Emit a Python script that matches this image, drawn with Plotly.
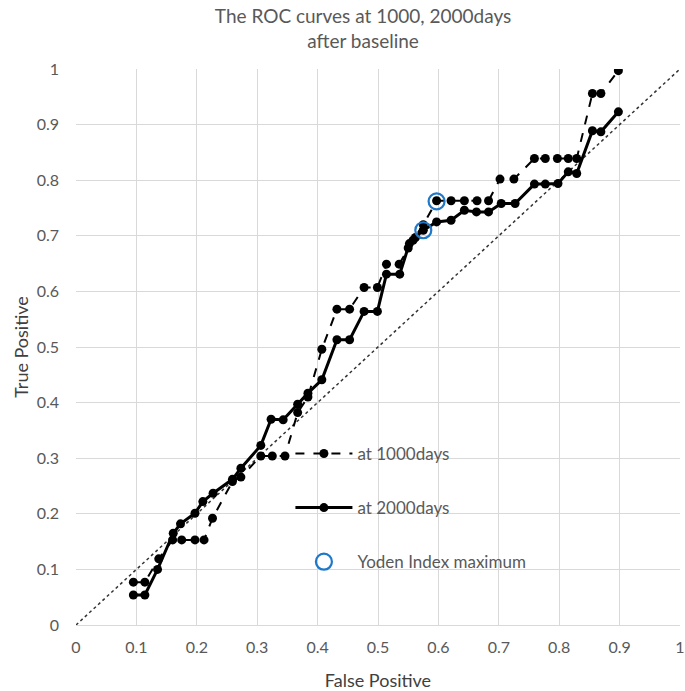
import plotly.graph_objects as go

# 1000 days ROC (dashed)
fp_1000 = [0.095, 0.114, 0.137, 0.160, 0.175, 0.197, 0.212, 0.226, 0.259, 0.273,
           0.306, 0.325, 0.346, 0.367, 0.384, 0.407, 0.432, 0.453, 0.477, 0.499,
           0.514, 0.535, 0.550, 0.558, 0.575, 0.597, 0.621, 0.643, 0.664, 0.683,
           0.702, 0.725, 0.759, 0.777, 0.797, 0.815, 0.829, 0.855, 0.869, 0.898]
tp_1000 = [0.077, 0.077, 0.119, 0.153, 0.153, 0.153, 0.153, 0.192, 0.258, 0.266,
           0.304, 0.304, 0.304, 0.382, 0.410, 0.496, 0.568, 0.568, 0.607, 0.607,
           0.649, 0.649, 0.678, 0.692, 0.720, 0.763, 0.763, 0.763, 0.763, 0.763,
           0.802, 0.802, 0.839, 0.839, 0.839, 0.839, 0.839, 0.956, 0.956, 0.997]

# 2000 days ROC (solid)
fp_2000 = [0.095, 0.114, 0.135, 0.161, 0.173, 0.197, 0.210, 0.227, 0.259, 0.273,
           0.306, 0.323, 0.343, 0.367, 0.384, 0.407, 0.432, 0.453, 0.477, 0.499,
           0.514, 0.536, 0.552, 0.562, 0.575, 0.597, 0.621, 0.643, 0.663, 0.683,
           0.704, 0.727, 0.759, 0.777, 0.798, 0.815, 0.829, 0.855, 0.869, 0.898]
tp_2000 = [0.054, 0.054, 0.100, 0.165, 0.182, 0.201, 0.222, 0.237, 0.262, 0.282,
           0.323, 0.370, 0.369, 0.397, 0.417, 0.441, 0.513, 0.513, 0.564, 0.564,
           0.631, 0.631, 0.686, 0.697, 0.710, 0.725, 0.728, 0.746, 0.743, 0.743,
           0.758, 0.758, 0.793, 0.793, 0.794, 0.815, 0.812, 0.889, 0.887, 0.923]

# Youden index maxima
yoden_fp = [0.597, 0.575]
yoden_tp = [0.762, 0.710]

diag = [0, 1]

FONT = "Lato, 'Open Sans', sans-serif"
GRAY = "#595959"

fig = go.Figure()
fig.add_trace(go.Scatter(x=diag, y=diag, mode="lines", showlegend=False,
                         line=dict(color="#333333", width=1.5, dash="dot"),
                         hoverinfo="skip"))
fig.add_trace(go.Scatter(x=fp_1000, y=tp_1000, mode="lines+markers", name="at 1000days",
                         legendgroup="a",
                         line=dict(color="black", width=2, dash="dash"),
                         marker=dict(color="black", size=9)))
fig.add_trace(go.Scatter(x=fp_2000, y=tp_2000, mode="lines+markers", name="at 2000days",
                         legendgroup="b",
                         line=dict(color="black", width=3),
                         marker=dict(color="black", size=9)))
fig.add_trace(go.Scatter(x=yoden_fp, y=yoden_tp, mode="markers", name="Yoden Index maximum",
                         legendgroup="c",
                         marker=dict(symbol="circle-open", color="#1F78C8", size=16,
                                     line=dict(width=2.2, color="#1F78C8"))))

fig.update_layout(
    width=685, height=691,
    margin=dict(l=76, r=5, t=69, b=66, autoexpand=False),
    paper_bgcolor="white", plot_bgcolor="white",
    font=dict(family=FONT, color=GRAY, size=16),
    title=dict(text="The ROC curves at 1000, 2000days<br>after baseline",
               x=0.53, xanchor="center", y=0.966, yanchor="top",
               font=dict(family=FONT, size=19, color=GRAY)),
    legend=dict(x=0.355, y=0.34, xanchor="left", yanchor="top",
                bgcolor="rgba(0,0,0,0)", tracegroupgap=29, itemwidth=57,
                font=dict(family=FONT, size=17, color=GRAY)),
    showlegend=True,
)
fig.update_xaxes(range=[0, 1], dtick=0.1, tick0=0, showgrid=True, gridcolor="#d9d9d9",
                 gridwidth=1, zeroline=False, showline=True, linecolor="#d9d9d9",
                 ticks="", ticklabelstandoff=8, automargin=False,
                 title=dict(text="False Positive", standoff=19,
                            font=dict(family=FONT, size=18, color="#404040")),
                 tickfont=dict(family=FONT, size=16, color=GRAY))
fig.update_yaxes(range=[0, 1], dtick=0.1, tick0=0, showgrid=True, gridcolor="#d9d9d9",
                 gridwidth=1, zeroline=False, showline=False,
                 ticks="", ticklabelstandoff=16, automargin=False,
                 title=dict(text="True Positive", standoff=3,
                            font=dict(family=FONT, size=18, color="#404040")),
                 tickfont=dict(family=FONT, size=16, color=GRAY))

fig.write_html("out.html", config={"displayModeBar": False},
               post_script="document.body.style.margin='0';")
